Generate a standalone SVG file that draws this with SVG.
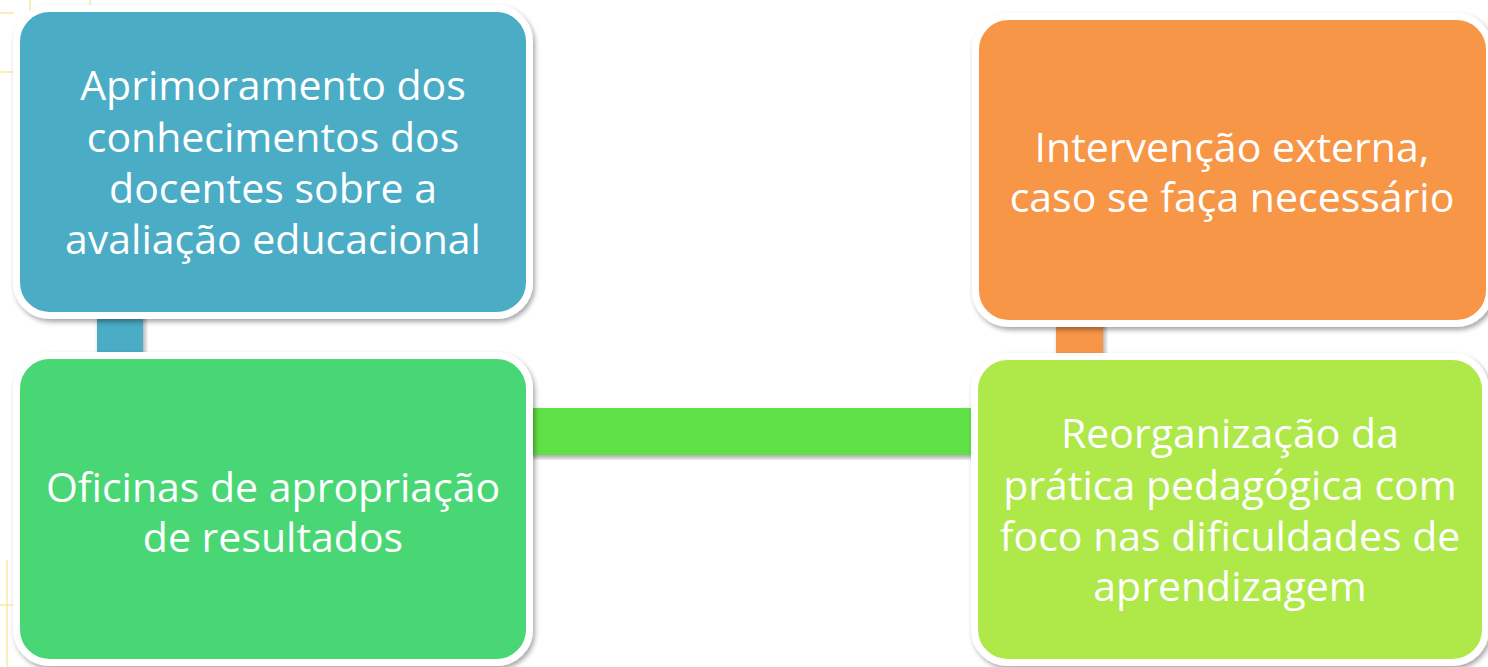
<svg xmlns="http://www.w3.org/2000/svg" width="1488" height="667" viewBox="0 0 1488 667">
  <defs>
    <filter id="sh" x="-10%" y="-10%" width="120%" height="120%">
      <feDropShadow dx="2" dy="3" stdDeviation="2.5" flood-color="#000" flood-opacity="0.35"/>
    </filter>
    <style>
      .bg { stroke: #F2E27A; stroke-width: 1.5; opacity: 0.7; fill: none; }
      .box { stroke: #FFFFFF; stroke-width: 7; filter: url(#sh); }
      .bar { filter: url(#sh); }
      .t { font-family: "Open Sans", "Noto Sans", sans-serif; font-size: 41px; fill: #FFFFFF; text-anchor: middle; }
    </style>
  </defs>
  <rect width="1488" height="667" fill="#FFFFFF"/>
  <g id="background">
    <line class="bg" x1="30" y1="0" x2="30" y2="12"/>
    <line class="bg" x1="90" y1="0" x2="90" y2="9"/>
    <line class="bg" x1="0" y1="13" x2="14" y2="13"/>
    <line class="bg" x1="0" y1="72" x2="14" y2="72"/>
    <line class="bg" x1="7" y1="560" x2="7" y2="667"/>
    <line class="bg" x1="0" y1="605" x2="14" y2="605"/>
  </g>
  <g id="connectors">
    <rect class="bar" x="97" y="310" width="46" height="52" fill="#4BACC6"/>
    <rect class="bar" x="1056" y="318" width="47" height="44" fill="#F79646"/>
    <rect class="bar" x="526" y="408" width="453" height="47" fill="#5EE046"/>
  </g>
  <g id="node-aprimoramento">
    <rect class="box" x="16.5" y="8.5" width="513" height="307" rx="33" fill="#4BACC6"/>
    <text class="t" x="273" y="100">Aprimoramento dos</text>
    <text class="t" x="273" y="152">conhecimentos dos</text>
    <text class="t" x="273" y="203">docentes sobre a</text>
    <text class="t" x="273" y="254">avaliação educacional</text>
  </g>
  <g id="node-oficinas">
    <rect class="box" x="16.5" y="355.5" width="513" height="307" rx="33" fill="#4AD774"/>
    <text class="t" x="273" y="502">Oficinas de apropriação</text>
    <text class="t" x="273" y="552">de resultados</text>
  </g>
  <g id="node-intervencao">
    <rect class="box" x="975.5" y="16.5" width="514" height="307" rx="33" fill="#F79646"/>
    <text class="t" x="1232" y="162">Intervenção externa,</text>
    <text class="t" x="1232" y="212">caso se faça necessário</text>
  </g>
  <g id="node-reorganizacao">
    <rect class="box" x="974.5" y="356.5" width="511" height="306" rx="33" fill="#AEE84A"/>
    <text class="t" x="1230" y="448">Reorganização da</text>
    <text class="t" x="1230" y="500">prática pedagógica com</text>
    <text class="t" x="1230" y="551">foco nas dificuldades de</text>
    <text class="t" x="1230" y="601">aprendizagem</text>
  </g>
</svg>
